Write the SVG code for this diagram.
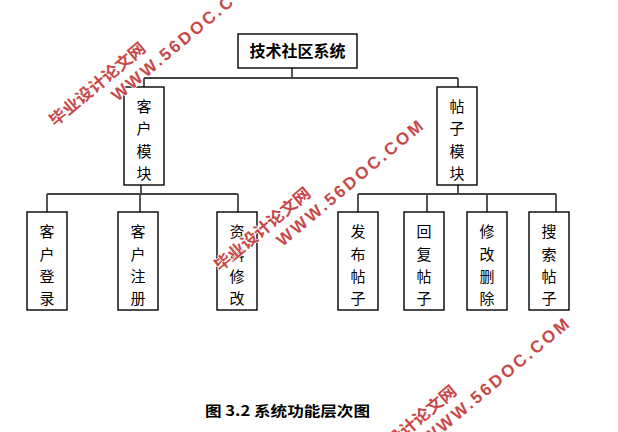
<svg xmlns="http://www.w3.org/2000/svg" width="618" height="432" viewBox="0 0 618 432">
<style>
.box{fill:#fff;stroke:#000;stroke-width:1.4}
.conn{stroke:#444;stroke-width:1.8;fill:none}
.lbl{font-family:"Noto Sans CJK SC","Noto Sans",sans-serif;font-size:15px;fill:#000;text-anchor:middle}
.title{font-family:"Noto Sans CJK SC","Noto Sans",sans-serif;font-size:16px;font-weight:bold;fill:#000;text-anchor:middle}
.cap{font-family:"Noto Sans CJK SC","Noto Sans",sans-serif;font-size:14px;font-weight:bold;fill:#000}
.wm{fill:#c84848;stroke:#fff;stroke-width:1.5;paint-order:stroke;font-weight:bold}
.wmc{font-family:"Noto Sans CJK SC","Noto Sans",sans-serif;font-size:16px}
.wme{font-family:"Liberation Sans",Arial,sans-serif;font-size:17px}
</style>
<rect width="618" height="432" fill="#fff"/>
<g id="connectors">
<path class="conn" d="M292 68V78M144 78H458M144 78V87M458 78V87"/>
<path class="conn" d="M141 185V194M47 194H238M47 194V212M140 194V212M238 194V212"/>
<path class="conn" d="M458 185V194M358 194H556M358 194V212M427 194V212M487 194V212M556 194V212"/>
</g>
<g id="root"><rect class="box" x="238" y="34" width="119" height="34"/><text class="title" x="297.5" y="57">技术社区系统</text></g>
<g id="kehu"><rect class="box" x="124" y="87" width="40" height="98"/><text class="lbl"><tspan x="144" y="112">客</tspan><tspan x="144" y="134">户</tspan><tspan x="144" y="157">模</tspan><tspan x="144" y="179">块</tspan></text></g>
<g id="tiezi"><rect class="box" x="437" y="87" width="40" height="98"/><text class="lbl"><tspan x="457" y="112">帖</tspan><tspan x="457" y="134">子</tspan><tspan x="457" y="157">模</tspan><tspan x="457" y="179">块</tspan></text></g>
<g id="denglu"><rect class="box" x="27" y="212" width="40" height="98"/><text class="lbl"><tspan x="47" y="237">客</tspan><tspan x="47" y="259.5">户</tspan><tspan x="47" y="281.5">登</tspan><tspan x="47" y="304">录</tspan></text></g>
<g id="zhuce"><rect class="box" x="118" y="212" width="40" height="98"/><text class="lbl"><tspan x="138" y="237">客</tspan><tspan x="138" y="259.5">户</tspan><tspan x="138" y="281.5">注</tspan><tspan x="138" y="304">册</tspan></text></g>
<g id="ziliao"><rect class="box" x="217" y="212" width="40" height="98"/><text class="lbl"><tspan x="237" y="237">资</tspan><tspan x="237" y="259.5">料</tspan><tspan x="237" y="281.5">修</tspan><tspan x="237" y="304">改</tspan></text></g>
<g id="fabu"><rect class="box" x="338" y="212" width="40" height="98"/><text class="lbl"><tspan x="358" y="237">发</tspan><tspan x="358" y="259.5">布</tspan><tspan x="358" y="281.5">帖</tspan><tspan x="358" y="304">子</tspan></text></g>
<g id="huifu"><rect class="box" x="404" y="212" width="40" height="98"/><text class="lbl"><tspan x="424" y="237">回</tspan><tspan x="424" y="259.5">复</tspan><tspan x="424" y="281.5">帖</tspan><tspan x="424" y="304">子</tspan></text></g>
<g id="xiugai"><rect class="box" x="467" y="212" width="40" height="98"/><text class="lbl"><tspan x="487" y="237">修</tspan><tspan x="487" y="259.5">改</tspan><tspan x="487" y="281.5">删</tspan><tspan x="487" y="304">除</tspan></text></g>
<g id="sousuo"><rect class="box" x="529" y="212" width="40" height="98"/><text class="lbl"><tspan x="549" y="237">搜</tspan><tspan x="549" y="259.5">索</tspan><tspan x="549" y="281.5">帖</tspan><tspan x="549" y="304">子</tspan></text></g>
<text class="cap" x="205" y="415.5" textLength="165" lengthAdjust="spacingAndGlyphs">图 3.2 系统功能层次图</text>
<defs>
<g id="wmark" class="wm">
<text class="wmc" x="0" y="0" textLength="120" lengthAdjust="spacingAndGlyphs">毕业设计论文网</text>
<text class="wme" x="64" y="21" textLength="185" lengthAdjust="spacing">WWW.56DOC.COM</text>
</g>
</defs>
<use href="#wmark" transform="translate(55,127) rotate(-40)"/>
<use href="#wmark" transform="translate(220,272) rotate(-40)"/>
<use href="#wmark" transform="translate(366,470) rotate(-40)"/>
</svg>
